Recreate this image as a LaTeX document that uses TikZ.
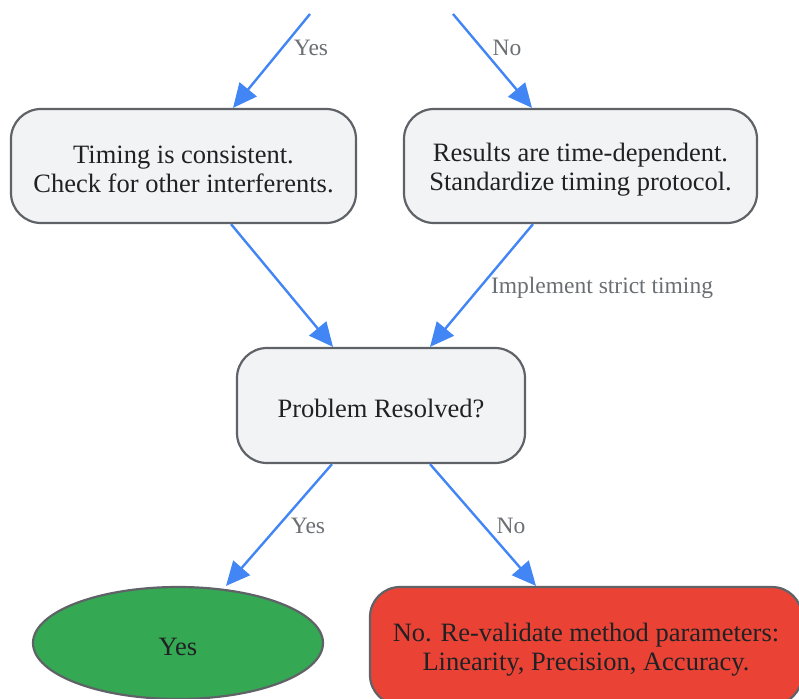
\documentclass[tikz,border=0pt]{standalone}
\usepackage{fontspec}
\setmainfont{Liberation Serif}
\usetikzlibrary{arrows.meta,shapes.geometric,positioning}

\definecolor{flowblue}{HTML}{4285F4}
\definecolor{boxfill}{HTML}{F1F3F5}
\definecolor{boxline}{HTML}{5F6368}
\definecolor{okgreen}{HTML}{34A853}
\definecolor{badred}{HTML}{EA4335}
\definecolor{lblgray}{HTML}{6B6E72}
\definecolor{ink}{HTML}{202124}

% taller first line, so the text sits as low as in the boxes of the original
\newcommand{\topstrut}{\rule{0pt}{25pt}}

\tikzset{
  txt/.style={text=ink,font=\fontsize{26.5}{29}\selectfont},
  box/.style={txt,draw=boxline,line width=2.2pt,fill=boxfill,rounded corners=30pt,
    align=center,minimum height=114pt},
  flow/.style={draw=flowblue,line width=2.4pt,-{Triangle[length=24pt,width=22pt]}},
  lbl/.style={text=lblgray,font=\fontsize{23.5}{27}\selectfont,inner sep=1pt}
}

\begin{document}
\begin{tikzpicture}[x=1pt,y=-1pt]
\useasboundingbox (0,0) rectangle (799,698);
\clip (0,0) rectangle (799,698);

% decision results
\node[box,minimum width=345pt] (consist) at (183.5,166) {\topstrut Timing is consistent.\\Check for other interferents.};
\node[box,minimum width=353pt] (timedep) at (580.5,166) {\topstrut Results are time-dependent.\\Standardize timing protocol.};
\node[box,minimum width=288pt,minimum height=115pt] (resolved) at (381,405.5) {\topstrut Problem Resolved?};

% outcomes
\node[txt,ellipse,draw=boxline,line width=2.2pt,fill=okgreen,
  minimum width=290pt,minimum height=112pt] (yes) at (178,643) {\topstrut Yes};
\node[box,fill=badred,minimum width=432pt,minimum height=118pt] (reval) at (586,646)
  {\topstrut No. Re-validate method parameters:\\Linearity, Precision, Accuracy.};

% incoming from above
\coordinate (inL) at (310,14);
\coordinate (inR) at (453,14);

\draw[flow] (inL) -- ([xshift=49.5pt]consist.north);
\draw[flow] (inR) -- ([xshift=-48.5pt]timedep.north);
\node[lbl] (yesTop) at (311,48) {Yes};
\node[lbl] (noTop) at (507,48) {No};

\draw[flow] ([xshift=47.5pt]consist.south) -- ([xshift=-48pt]resolved.north);
\draw[flow] ([xshift=-47.5pt]timedep.south) -- ([xshift=49pt]resolved.north);
\node[lbl] (strict) at (602,288) {Implement strict timing};

\draw[flow] ([xshift=-49pt]resolved.south) -- ([xshift=48pt]yes.north);
\draw[flow] ([xshift=49pt]resolved.south) -- ([xshift=-50pt]reval.north);
\node[lbl] (yesBot) at (308,526) {Yes};
\node[lbl] (noBot) at (511,526) {No};
\end{tikzpicture}
\end{document}
